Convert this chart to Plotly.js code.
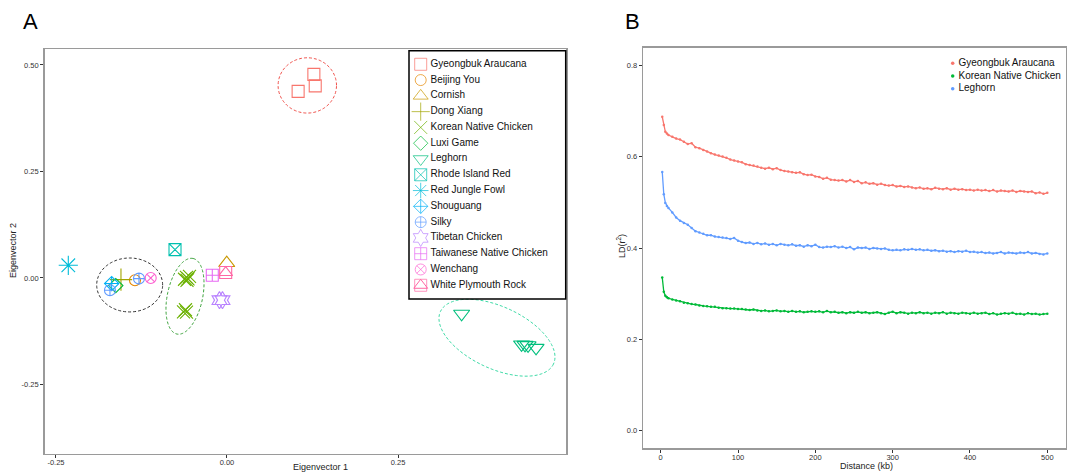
<!DOCTYPE html>
<html><head><meta charset="utf-8">
<script src="https://cdn.plot.ly/plotly-3.0.1.min.js"></script>
<style>html,body{margin:0;padding:0;background:#fff}</style>
</head><body><div id="chart" style="width:1070px;height:472px"></div>
<script>
// ---------- Panel A: PCA ----------
const breeds = ['Gyeongbuk Araucana','Beijing You','Cornish','Dong Xiang','Korean Native Chicken','Luxi Game','Leghorn','Rhode Island Red','Red Jungle Fowl','Shouguang','Silky','Tibetan Chicken','Taiwanese Native Chicken','Wenchang','White Plymouth Rock'];
const breedColors = ['#F8766D','#E58700','#C99800','#A3A500','#6BB100','#00BA38','#00BF7D','#00C0AF','#00BCD8','#00B0F6','#619CFF','#B983FF','#E76BF3','#FD61D1','#FF67A4'];
const breedSymbols = ['square-open','circle-open','triangle-up-open','cross-thin-open','x-thin-open','diamond-open','triangle-down-open','square-x-open','asterisk-open','diamond-cross-open','circle-cross-open','hexagram-open','square-cross-open','circle-x-open','square-open'];
const breedSizes = [12,11,14,16,13,11,14,12,16,11,11,13,12,11,12];

const sampleBreed = [
 'Gyeongbuk Araucana','Gyeongbuk Araucana','Gyeongbuk Araucana',
 'Beijing You','Cornish','Dong Xiang',
 'Korean Native Chicken','Korean Native Chicken','Korean Native Chicken','Korean Native Chicken','Korean Native Chicken',
 'Korean Native Chicken','Korean Native Chicken','Korean Native Chicken',
 'Luxi Game',
 'Leghorn','Leghorn','Leghorn','Leghorn','Leghorn',
 'Rhode Island Red','Red Jungle Fowl','Shouguang','Silky','Silky',
 'Tibetan Chicken','Tibetan Chicken','Taiwanese Native Chicken','Wenchang','White Plymouth Rock'];
const pc1 = [0.127,0.129,0.104,
 -0.1345,-0.0004,-0.155,
 -0.0621,-0.0592,-0.0570,-0.0548,-0.0585,
 -0.0636,-0.0607,-0.0592,
 -0.1626,
 0.343,0.4306,0.4357,0.4401,0.4518,
 -0.076,-0.232,-0.1686,-0.1711,-0.1287,
 -0.011,-0.0066,-0.0215,-0.1115,-0.0019];
const pc2 = [0.478,0.451,0.438,
 -0.0054,0.035,-0.0038,
 -0.003,0.0016,-0.0019,0.004,-0.0054,
 -0.0793,-0.0746,-0.0804,
 -0.0178,
 -0.084,-0.156,-0.157,-0.158,-0.164,
 0.0666,0.0298,-0.0131,-0.0288,-0.0014,
 -0.052,-0.052,0.0063,0.0,0.0127];

// cluster ellipses: centre and two conjugate semi-axis vectors (data units)
const ellipseCx = [0.1174,-0.1423,-0.0614,0.3947];
const ellipseCy = [0.452,-0.0164,-0.0429,-0.1402];
const ellipseU  = [[0.0427,0],[0.0482,0],[0.01177,0.0887],[0.0826,-0.0617]];
const ellipseV  = [[0,0.0649],[0,0.0633],[0.0252,-0.00858],[-0.0192,-0.0659]];
const ellipseColors = ['#F0504A','#333333','#3DA33D','#3ED9A6'];

// ---------- Panel B: LD decay ----------
const ldGroups = ['Gyeongbuk Araucana','Korean Native Chicken','Leghorn'];
const ldColors = ['#F8766D','#00BA38','#619CFF'];
const ldDistance = [2,4,6,8,10,
15,20,25,30,35,40,45,50,55,60,
65,70,75,80,85,90,95,100,105,110,
115,120,125,130,135,140,145,150,155,160,
165,170,175,180,185,190,195,200,205,210,
215,220,225,230,235,240,245,250,255,260,
265,270,275,280,285,290,295,300,305,310,
315,320,325,330,335,340,345,350,355,360,
365,370,375,380,385,390,395,400,405,410,
415,420,425,430,435,440,445,450,455,460,
465,470,475,480,485,490,495,500];
const ldGA = [0.688,0.670,0.655,0.651,0.648,
0.644,0.640,0.638,0.633,0.628,0.630,0.621,0.619,0.615,0.612,
0.608,0.605,0.603,0.601,0.598,0.594,0.592,0.590,0.588,0.584,
0.582,0.581,0.579,0.576,0.574,0.576,0.573,0.575,0.571,0.569,
0.568,0.566,0.565,0.566,0.562,0.560,0.561,0.557,0.556,0.552,
0.554,0.550,0.549,0.548,0.549,0.546,0.549,0.545,0.547,0.542,
0.544,0.541,0.542,0.539,0.541,0.538,0.537,0.538,0.535,0.536,
0.534,0.535,0.533,0.531,0.533,0.530,0.531,0.529,0.532,0.530,
0.529,0.531,0.528,0.530,0.528,0.529,0.527,0.528,0.526,0.528,
0.526,0.527,0.525,0.527,0.524,0.526,0.525,0.524,0.526,0.523,
0.525,0.524,0.523,0.524,0.520,0.522,0.519,0.521];
const ldKNC = [0.3355,0.304,0.295,0.292,0.290,
0.287,0.285,0.283,0.280,0.279,0.277,0.276,0.274,0.273,0.272,
0.271,0.271,0.269,0.268,0.268,0.267,0.267,0.266,0.266,0.265,
0.264,0.265,0.263,0.262,0.263,0.261,0.262,0.263,0.261,0.262,
0.260,0.262,0.260,0.261,0.259,0.260,0.261,0.260,0.261,0.259,
0.262,0.259,0.260,0.258,0.259,0.257,0.259,0.258,0.260,0.258,
0.259,0.257,0.258,0.259,0.257,0.255,0.258,0.260,0.257,0.259,
0.258,0.256,0.258,0.257,0.259,0.257,0.258,0.256,0.258,0.257,
0.259,0.256,0.258,0.257,0.256,0.258,0.257,0.256,0.258,0.256,
0.257,0.258,0.255,0.257,0.254,0.256,0.257,0.256,0.258,0.255,
0.256,0.254,0.257,0.255,0.256,0.254,0.255,0.256];
const ldLH = [0.567,0.518,0.499,0.492,0.488,
0.478,0.467,0.460,0.455,0.451,0.444,0.437,0.434,0.431,0.428,
0.428,0.425,0.424,0.423,0.422,0.420,0.422,0.416,0.413,0.411,
0.412,0.409,0.411,0.408,0.410,0.407,0.409,0.406,0.409,0.407,
0.406,0.408,0.405,0.406,0.403,0.406,0.404,0.407,0.402,0.401,
0.403,0.402,0.404,0.401,0.403,0.400,0.402,0.397,0.401,0.400,
0.401,0.398,0.400,0.399,0.398,0.399,0.396,0.395,0.396,0.395,
0.397,0.396,0.398,0.396,0.397,0.395,0.396,0.394,0.395,0.393,
0.394,0.392,0.393,0.391,0.393,0.392,0.394,0.391,0.392,0.390,
0.391,0.389,0.390,0.388,0.389,0.391,0.388,0.390,0.389,0.388,
0.390,0.389,0.391,0.388,0.389,0.387,0.386,0.388];
const ldValues = [ldGA, ldKNC, ldLH];

// tick labels
const pcaXTicks = [-0.25, 0, 0.25], pcaXText = ['-0.25','0.00','0.25'];
const pcaYTicks = [-0.25, 0, 0.25, 0.5], pcaYText = ['-0.25','0.00','0.25','0.50'];
const ldXTicks = [0,100,200,300,400,500];
const ldYTicks = [0,0.2,0.4,0.6,0.8], ldYText = ['0.0','0.2','0.4','0.6','0.8'];

// ---------- build ----------
const W = 1070, H = 472;
const px = v => v / W, py = v => 1 - v / H;
const FONT = 'Liberation Sans, Arial, sans-serif';
const traces = [];

breeds.forEach((b, i) => {
  const xs = [], ys = [];
  sampleBreed.forEach((s, k) => { if (s === b) { xs.push(pc1[k]); ys.push(pc2[k]); } });
  traces.push({type:'scatter', mode:'markers', x:xs, y:ys, xaxis:'x', yaxis:'y', showlegend:false, hoverinfo:'skip',
    marker:{symbol:breedSymbols[i], size:breedSizes[i], color:breedColors[i], line:{width:1.1, color:breedColors[i]}}});
  if (b === 'White Plymouth Rock') {
    traces.push({type:'scatter', mode:'markers', x:xs, y:ys, xaxis:'x', yaxis:'y', showlegend:false, hoverinfo:'skip',
      marker:{symbol:'triangle-up-open', size:12, color:breedColors[i], line:{width:1.1, color:breedColors[i]}}});
  }
});

// custom legend for A
const legIdx = breeds.map((_, i) => i);
traces.push({type:'scatter', mode:'markers', x:breeds.map(() => 11.7), y:legIdx, xaxis:'x3', yaxis:'y3', showlegend:false, hoverinfo:'skip',
  marker:{symbol:breedSymbols, size:breedSizes.map(s => Math.min(s, 13)), color:breedColors, line:{width:1, color:breedColors}}});
traces.push({type:'scatter', mode:'markers', x:[11.7], y:[breeds.indexOf('White Plymouth Rock')], xaxis:'x3', yaxis:'y3', showlegend:false, hoverinfo:'skip',
  marker:{symbol:'triangle-up-open', size:12, color:breedColors[14], line:{width:1, color:breedColors[14]}}});
traces.push({type:'scatter', mode:'text', x:breeds.map(() => 21.5), y:legIdx, text:breeds, textposition:'middle right', xaxis:'x3', yaxis:'y3', showlegend:false, hoverinfo:'skip',
  textfont:{family:FONT, size:10, color:'#111'}});

// Panel B lines
ldGroups.forEach((g, i) => {
  traces.push({type:'scatter', mode:'lines+markers', x:ldDistance, y:ldValues[i], xaxis:'x2', yaxis:'y2', showlegend:false, hoverinfo:'skip',
    line:{color:ldColors[i], width:1.3}, marker:{size:2.5, color:ldColors[i]}});
});
// legend B
traces.push({type:'scatter', mode:'markers', x:ldGroups.map(() => 7.7), y:ldGroups.map((_, i) => i), xaxis:'x4', yaxis:'y4', showlegend:false, hoverinfo:'skip',
  marker:{size:3.5, color:ldColors}});
traces.push({type:'scatter', mode:'text', x:ldGroups.map(() => 13.5), y:ldGroups.map((_, i) => i), text:ldGroups, textposition:'middle right', xaxis:'x4', yaxis:'y4', showlegend:false, hoverinfo:'skip',
  textfont:{family:FONT, size:10, color:'#111'}});

// ellipses as shape paths
const shapes = ellipseCx.map((cx, e) => {
  let d = '';
  for (let k = 0; k <= 120; k++) {
    const t = 2 * Math.PI * k / 120;
    const x = cx + ellipseU[e][0] * Math.cos(t) + ellipseV[e][0] * Math.sin(t);
    const y = ellipseCy[e] + ellipseU[e][1] * Math.cos(t) + ellipseV[e][1] * Math.sin(t);
    d += (k === 0 ? 'M' : 'L') + x.toFixed(5) + ',' + y.toFixed(5);
  }
  return {type:'path', xref:'x', yref:'y', path:d + 'Z', line:{color:ellipseColors[e], width:1, dash:'3px,2px'}, layer:'above'};
});
shapes.push({type:'rect', xref:'paper', yref:'paper', x0:px(409), x1:px(565.7), y0:py(299), y1:py(50.7),
  line:{color:'#000', width:1.5}, fillcolor:'rgba(0,0,0,0)', layer:'above'});

const axBase = {showline:true, mirror:true, linecolor:'#9a9a9a', linewidth:1.5, showgrid:false, zeroline:false,
  ticks:'outside', ticklen:3, tickwidth:1, tickcolor:'#333', tickfont:{family:FONT, size:7.5, color:'#333'}};
const hidden = {visible:false, showgrid:false, zeroline:false, fixedrange:true};

const layout = {
  width:W, height:H, margin:{l:0, r:0, t:0, b:0}, paper_bgcolor:'#fff', plot_bgcolor:'rgba(0,0,0,0)',
  font:{family:FONT},
  xaxis:Object.assign({}, axBase, {domain:[px(44.7), px(566)], range:[-0.2665, 0.4956], tickvals:pcaXTicks, ticktext:pcaXText, anchor:'y', ticklabelstandoff:-2}),
  yaxis:Object.assign({}, axBase, {domain:[py(453.5), py(49)], range:[-0.412, 0.5375], tickvals:pcaYTicks, ticktext:pcaYText, anchor:'x'}),
  xaxis2:Object.assign({}, axBase, {domain:[px(643.3), px(1065.7)], range:[-22.5, 523.8], tickvals:ldXTicks, anchor:'y2', ticklabelstandoff:-2}),
  yaxis2:Object.assign({}, axBase, {domain:[py(448.3), py(47.7)], range:[-0.0395, 0.8395], tickvals:ldYTicks, ticktext:ldYText, anchor:'x2'}),
  xaxis3:Object.assign({}, hidden, {domain:[px(409), px(565.7)], range:[0, 156.7], anchor:'y3'}),
  yaxis3:Object.assign({}, hidden, {domain:[py(299), py(50.7)], range:[14.87, -0.861], anchor:'x3'}),
  xaxis4:Object.assign({}, hidden, {domain:[px(945), px(1065)], range:[0, 120], anchor:'y4'}),
  yaxis4:Object.assign({}, hidden, {domain:[py(97), py(55)], range:[2.654, -0.654], anchor:'x4'}),
  shapes:shapes,
  annotations:[
    {text:'A', xref:'paper', yref:'paper', x:px(30.5), y:py(21.5), showarrow:false, xanchor:'center', yanchor:'middle', font:{family:FONT, size:22, color:'#000'}},
    {text:'B', xref:'paper', yref:'paper', x:px(632), y:py(21.5), showarrow:false, xanchor:'center', yanchor:'middle', font:{family:FONT, size:22, color:'#000'}},
    {text:'Eigenvector 1', xref:'paper', yref:'paper', x:px(320), y:py(466.5), showarrow:false, xanchor:'center', yanchor:'middle', font:{family:FONT, size:9, color:'#222'}},
    {text:'Eigenvector 2', xref:'paper', yref:'paper', x:px(13), y:py(251), showarrow:false, textangle:-90, xanchor:'center', yanchor:'middle', font:{family:FONT, size:9, color:'#222'}},
    {text:'Distance (kb)', xref:'paper', yref:'paper', x:px(867), y:py(466), showarrow:false, xanchor:'center', yanchor:'middle', font:{family:FONT, size:9, color:'#222'}},
    {text:'LD(r<sup>2</sup>)', xref:'paper', yref:'paper', x:px(621), y:py(246), showarrow:false, textangle:-90, xanchor:'center', yanchor:'middle', font:{family:FONT, size:9, color:'#222'}}
  ]
};

Plotly.newPlot('chart', traces, layout, {staticPlot:true, displayModeBar:false});
</script></body></html>
